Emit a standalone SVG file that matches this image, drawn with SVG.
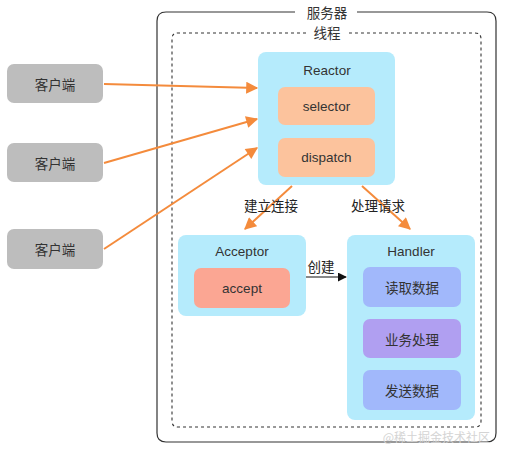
<svg xmlns="http://www.w3.org/2000/svg" width="505" height="450" viewBox="0 0 505 450">
<defs>
<style>
.t{font-family:"Noto Sans CJK SC","Liberation Sans",sans-serif;font-size:13.5px;fill:#333;text-anchor:middle;dominant-baseline:central}
.e{font-family:"Liberation Sans","Noto Sans CJK SC",sans-serif;font-size:13.5px;fill:#333;text-anchor:middle;dominant-baseline:central}
.client{fill:#bdbdbd}
.blue{fill:#b5ebfc}
.org{fill:#fcc39d}
.or{stroke:#f48b3c;stroke-width:2;fill:none}
</style>
<marker id="oa" viewBox="0 0 10 10" refX="9" refY="5" markerWidth="6.5" markerHeight="6" orient="auto" markerUnits="strokeWidth">
<path d="M0,0 L10,5 L0,10 z" fill="#f48b3c"/>
</marker>
<marker id="ba" viewBox="0 0 10 10" refX="9" refY="5" markerWidth="9" markerHeight="9" orient="auto" markerUnits="strokeWidth">
<path d="M0,0 L10,5 L0,10 z" fill="#111"/>
</marker>
</defs>
<rect width="505" height="450" fill="#fff"/>
<g id="server">
<path d="M295,12 H166 Q157,12 157,21 V433 Q157,442 166,442 H487 Q496,442 496,433 V21 Q496,12 487,12 H357" fill="none" stroke="#333" stroke-width="1.2"/>
<text class="t" x="327" y="12">服务器</text>
</g>
<g id="thread">
<path d="M306,33 H178 Q172,33 172,39 V421 Q172,427 178,427 H475 Q481,427 481,421 V39 Q481,33 475,33 H349" fill="none" stroke="#333" stroke-width="1.1" stroke-dasharray="3,3"/>
<text class="t" x="327" y="32">线程</text>
</g>
<g id="client1"><rect class="client" x="7" y="64" width="96" height="39" rx="7"/><text class="t" x="55" y="83.5">客户端</text></g>
<g id="client2"><rect class="client" x="7" y="143" width="96" height="39" rx="7"/><text class="t" x="55" y="162.5">客户端</text></g>
<g id="client3"><rect class="client" x="7" y="229" width="96" height="40" rx="7"/><text class="t" x="55" y="249">客户端</text></g>
<g id="reactor">
<rect class="blue" x="258" y="52" width="137" height="133" rx="8"/>
<text class="e" x="327" y="70">Reactor</text>
<rect class="org" x="278" y="87" width="97" height="38" rx="7"/><text class="e" x="326.5" y="106">selector</text>
<rect class="org" x="278" y="138" width="97" height="39" rx="7"/><text class="e" x="326.5" y="157.5">dispatch</text>
</g>
<g id="acceptor">
<rect class="blue" x="178" y="235" width="128" height="81" rx="8"/>
<text class="e" x="242" y="251">Acceptor</text>
<rect x="194" y="268" width="96" height="40" rx="7" fill="#fba693"/><text class="e" x="242" y="288">accept</text>
</g>
<g id="handler">
<rect class="blue" x="347" y="235" width="128" height="185" rx="8"/>
<text class="e" x="411" y="251">Handler</text>
<rect x="363" y="267" width="98" height="40" rx="7" fill="#a1b8fb"/><text class="t" x="412" y="287">读取数据</text>
<rect x="363" y="319" width="98" height="39" rx="7" fill="#b09ff1"/><text class="t" x="412" y="338.5">业务处理</text>
<rect x="363" y="370" width="98" height="40" rx="7" fill="#a1b8fb"/><text class="t" x="412" y="390">发送数据</text>
</g>
<g id="connectors">
<line class="or" x1="104" y1="84" x2="257" y2="88" marker-end="url(#oa)"/>
<line class="or" x1="104" y1="163" x2="257" y2="119" marker-end="url(#oa)"/>
<line class="or" x1="104" y1="249" x2="257" y2="148" marker-end="url(#oa)"/>
<line class="or" x1="292" y1="186" x2="245" y2="229" marker-end="url(#oa)"/>
<line class="or" x1="362" y1="186" x2="410" y2="229" marker-end="url(#oa)"/>
<line x1="306" y1="277" x2="346" y2="277" stroke="#111" stroke-width="1" marker-end="url(#ba)"/>
<text class="t" x="271" y="205" style="fill:#222">建立连接</text>
<text class="t" x="378" y="205" style="fill:#222">处理请求</text>
<text class="t" x="321" y="266" style="fill:#222">创建</text>
</g>
<text x="490" y="442" style="font-family:'Noto Sans CJK SC',sans-serif;font-size:12px;fill:#d4d4d4;text-anchor:end">@稀土掘金技术社区</text>
</svg>
